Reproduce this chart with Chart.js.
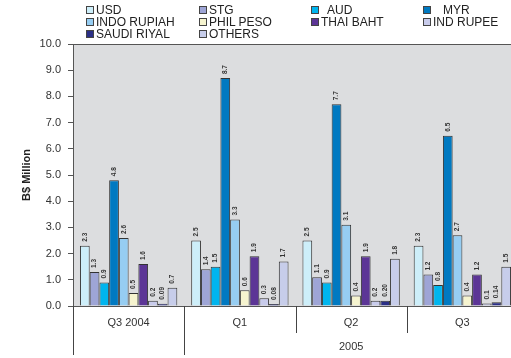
<!DOCTYPE html>
<html><head><meta charset="utf-8">
<script src="https://cdn.jsdelivr.net/npm/chart.js@4/dist/chart.umd.min.js"></script>
<style>
html,body{margin:0;padding:0;background:#fff;overflow:hidden;width:511px;height:358px;}
#wrap{position:absolute;left:0;top:0;width:520px;height:358px;}
#legend{position:absolute;left:0;top:0;width:511px;height:44px;font-family:"Liberation Sans",Arial,sans-serif;font-size:12px;color:#222;}
.li{position:absolute;white-space:pre;line-height:12px;}
.sw{position:absolute;width:6px;height:6px;border:1px solid #444;}
</style></head>
<body>
<div id="wrap"><canvas id="c" width="520" height="358"></canvas></div>
<div id="legend"></div>
<script>
const categories = ['Q3 2004', 'Q1', 'Q2', 'Q3'];
const yearLabels = ['', '2005', '2005', '2005'];
const seriesNames = ['USD', 'STG', 'AUD', 'MYR', 'INDO RUPIAH', 'PHIL PESO', 'THAI BAHT', 'IND RUPEE', 'SAUDI RIYAL', 'OTHERS'];
const usd = [2.3, 2.5, 2.5, 2.3];
const stg = [1.3, 1.4, 1.1, 1.2];
const aud = [0.9, 1.5, 0.9, 0.8];
const myr = [4.8, 8.7, 7.7, 6.5];
const indoRupiah = [2.6, 3.3, 3.1, 2.7];
const philPeso = [0.5, 0.6, 0.4, 0.4];
const thaiBaht = [1.6, 1.9, 1.9, 1.2];
const indRupee = [0.2, 0.3, 0.2, 0.1];
const saudiRiyal = [0.09, 0.08, 0.20, 0.14];
const others = [0.7, 1.7, 1.8, 1.5];
const labelDecimals = [1, 1, 1, 1, 1, 1, 1, 1, 2, 1];
const yTicks = [0, 1, 2, 3, 4, 5, 6, 7, 8, 9, 10];

const seriesValues = [usd, stg, aud, myr, indoRupiah, philPeso, thaiBaht, indRupee, saudiRiyal, others];
const colors = ['#cdeef9', '#9ea5d6', '#00b5ee', '#0079c1', '#96cdf2', '#f6f4cf', '#5c3596', '#c8cbeb', '#2b2f86', '#c7cdea'];

// HTML legend
const legendPos = [
  [86, 4, ''], [199, 4, ''], [311, 4, '  '], [423, 4, '   '],
  [86, 16, ''], [199, 16, ''], [311, 16, ''], [423, 16, ''],
  [86, 28, ''], [199, 28, '']
];
const lg = document.getElementById('legend');
seriesNames.forEach((n, i) => {
  const [x, y, pre] = legendPos[i];
  const sw = document.createElement('div');
  sw.className = 'sw';
  sw.style.left = x + 'px'; sw.style.top = (y + 2) + 'px'; sw.style.background = colors[i];
  lg.appendChild(sw);
  const t = document.createElement('div');
  t.className = 'li';
  t.style.left = (x + 10) + 'px'; t.style.top = y + 'px';
  t.textContent = pre + n;
  lg.appendChild(t);
});

const FONT = '"Liberation Sans", Arial, sans-serif';

const deco = {
  id: 'deco',
  beforeDraw(chart) {
    const { ctx, chartArea: a } = chart;
    ctx.save();
    ctx.fillStyle = '#dcdddf';
    ctx.fillRect(a.left, a.top, a.right - a.left, a.bottom - a.top);
    ctx.strokeStyle = '#555';
    ctx.lineWidth = 1;
    ctx.beginPath();
    ctx.moveTo(a.left, a.top + 0.5); ctx.lineTo(a.right, a.top + 0.5);
    ctx.stroke();
    ctx.restore();
  },
  afterDatasetsDraw(chart) {
    const { ctx } = chart;
    ctx.save();
    ctx.font = 'bold 6.5px ' + FONT;
    ctx.fillStyle = '#333';
    ctx.textAlign = 'left';
    ctx.textBaseline = 'middle';
    chart.data.datasets.forEach((ds, di) => {
      const meta = chart.getDatasetMeta(di);
      meta.data.forEach((bar, i) => {
        const v = ds.data[i];
        ctx.save();
        ctx.translate(bar.x, bar.y - 4);
        ctx.rotate(-Math.PI / 2);
        ctx.fillText(v.toFixed(labelDecimals[di]), 0, 0);
        ctx.restore();
      });
    });
    ctx.restore();
  },
  afterDraw(chart) {
    const { ctx, chartArea: a, scales: { x } } = chart;
    const n = categories.length;
    const w = (a.right - a.left) / n;
    ctx.save();
    ctx.strokeStyle = '#444';
    ctx.lineWidth = 1;
    for (let i = 0; i < n; i++) {
      const bx = Math.round(x.getPixelForValue(i) - w / 2) + 0.5;
      const long = i === 0 || yearLabels[i] !== yearLabels[i - 1];
      ctx.beginPath();
      ctx.moveTo(bx, a.bottom);
      ctx.lineTo(bx, long ? a.bottom + 49 : a.bottom + 27);
      ctx.stroke();
    }
    ctx.fillStyle = '#333';
    ctx.font = '11px ' + FONT;
    ctx.textAlign = 'center';
    ctx.textBaseline = 'middle';
    categories.forEach((c, i) => ctx.fillText(c, x.getPixelForValue(i), a.bottom + 17));
    // group year labels
    let s = 0;
    for (let i = 1; i <= n; i++) {
      if (i === n || yearLabels[i] !== yearLabels[s]) {
        if (yearLabels[s]) {
          const l = x.getPixelForValue(s) - w / 2;
          const r = x.getPixelForValue(i - 1) + w / 2;
          ctx.fillText(yearLabels[s], (l + r) / 2, a.bottom + 41);
        }
        s = i;
      }
    }
    ctx.restore();
  }
};

new Chart(document.getElementById('c'), {
  type: 'bar',
  data: {
    labels: categories,
    datasets: seriesNames.map((n, i) => ({
      label: n,
      data: seriesValues[i],
      backgroundColor: colors[i],
      borderColor: '#333',
      borderWidth: 1,
      categoryPercentage: 0.875,
      barPercentage: 1.0
    }))
  },
  options: {
    responsive: false,
    animation: false,
    devicePixelRatio: 1,
    layout: { padding: { top: 44, right: 2, left: 0, bottom: 0 } },
    plugins: { legend: { display: false }, tooltip: { enabled: false } },
    scales: {
      x: {
        ticks: { display: false },
        grid: { display: false },
        border: { display: true, color: '#555' },
        afterFit(s) { s.height = 52; }
      },
      y: {
        min: 0, max: 10,
        afterBuildTicks(s) { s.ticks = yTicks.map(v => ({ value: v })); },
        ticks: {
          callback: v => Number(v).toFixed(1),
          font: { family: FONT, size: 11 },
          color: '#333',
          padding: 7
        },
        grid: { display: true, drawOnChartArea: false, drawTicks: true, tickLength: 5, color: '#555' },
        border: { display: true, color: '#555' },
        title: {
          display: true, text: 'B$ Million',
          font: { family: FONT, size: 11, weight: 'bold' },
          color: '#222',
          padding: { top: 20, bottom: 0 }
        },
        afterFit(s) { s.width = 73; }
      }
    }
  },
  plugins: [deco]
});
</script>
</body></html>
